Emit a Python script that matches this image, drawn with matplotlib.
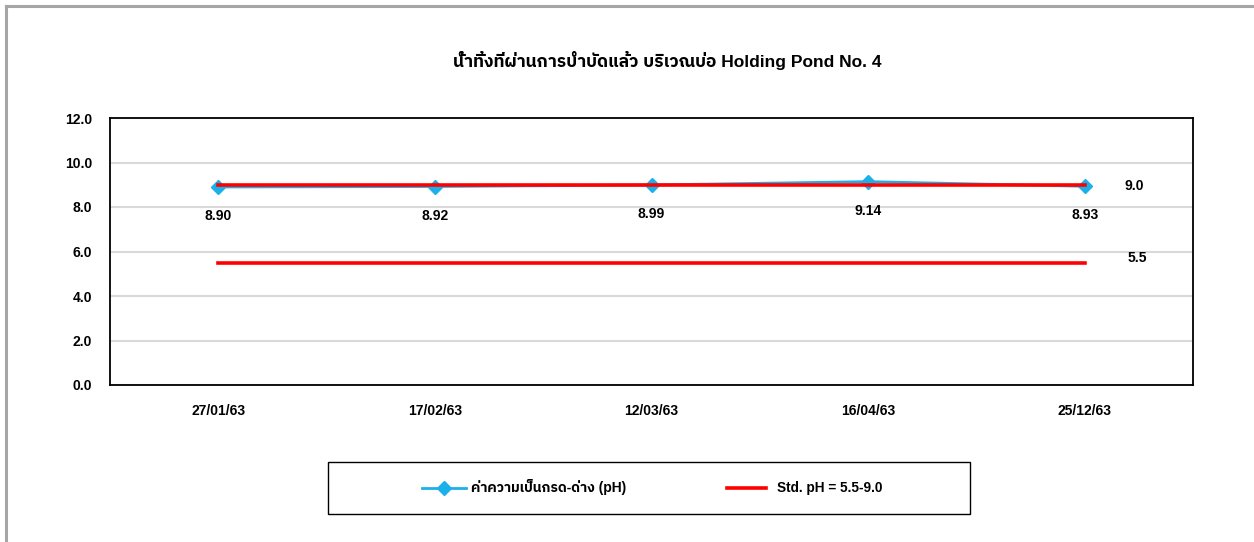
import matplotlib
matplotlib.use("Agg")
import matplotlib.pyplot as plt
from matplotlib import font_manager
from matplotlib.lines import Line2D
from matplotlib.patches import Rectangle

# ---- data -------------------------------------------------------------
dates = ["27/01/63", "17/02/63", "12/03/63", "16/04/63", "25/12/63"]
ph_values = [8.90, 8.92, 8.99, 9.14, 8.93]
std_upper = 9.0
std_lower = 5.5
y_ticks = [0.0, 2.0, 4.0, 6.0, 8.0, 10.0, 12.0]

title = "น้ำทิ้งที่ผ่านการบำบัดแล้ว บริเวณบ่อ Holding Pond No. 4"
ph_label = "ค่าความเป็นกรด-ด่าง (pH)"
std_label = "Std. pH = 5.5-9.0"


# ---- fonts: Latin in Liberation Sans, Thai from any font that has it ----
def find_thai_family():
    try:
        from fontTools.ttLib import TTFont
    except Exception:
        return None
    best = None
    for fe in font_manager.fontManager.ttflist:
        try:
            f = TTFont(fe.fname, fontNumber=0, lazy=True)
            cmap = f.getBestCmap() or {}
            if 0x0E01 in cmap and 0x0E33 in cmap:
                name = fe.name
                score = 0
                if "thai" in name.lower():
                    score += 2
                if "sans" in name.lower():
                    score += 1
                if best is None or score > best[0]:
                    best = (score, name)
        except Exception:
            continue
    return best[1] if best else None


thai_family = find_thai_family()
families = ["Liberation Sans"] + ([thai_family] if thai_family else []) + ["DejaVu Sans"]
plt.rcParams["font.family"] = families
plt.rcParams["font.weight"] = "bold"

BLUE = "#1cb0ea"
RED = "#ff0000"
GRID = "#d9d9d9"
MS = 7

W, H = 1254, 542
fig = plt.figure(figsize=(W / 100, H / 100), dpi=100)
fig.patch.set_facecolor("white")


def fx(px):
    return px / W


def fy(py):
    return 1 - py / H


# outer chart frame (left and top edges visible)
fig.add_artist(Line2D([fx(6), fx(6)], [0, fy(6)], color="#a6a6a6", lw=2.2,
                      transform=fig.transFigure))
fig.add_artist(Line2D([fx(6), 1], [fy(6), fy(6)], color="#a6a6a6", lw=2.2,
                      transform=fig.transFigure))

left, right, top, bottom = 110, 1193, 118, 385
ax = fig.add_axes([fx(left), fy(bottom), (right - left) / W, (bottom - top) / H])

x = list(range(len(dates)))

ax.plot(x, ph_values, color=BLUE, lw=2, marker="D", markersize=MS,
        markeredgecolor=BLUE, zorder=3)
ax.plot(x, [std_upper] * len(x), color=RED, lw=2.6, zorder=4)
ax.plot(x, [std_lower] * len(x), color=RED, lw=2.6, zorder=4)

for xi, v in zip(x, ph_values):
    ax.annotate(f"{v:.2f}", (xi, v), xytext=(0, -21), textcoords="offset points",
                ha="center", va="center", fontsize=10, fontweight="bold")

ax.annotate(f"{std_upper:.1f}", (x[-1], std_upper), xytext=(36, -1),
            textcoords="offset points", ha="center", va="center",
            fontsize=10, fontweight="bold")
ax.annotate(f"{std_lower:.1f}", (x[-1], std_lower), xytext=(38, 3),
            textcoords="offset points", ha="center", va="center",
            fontsize=10, fontweight="bold")

ax.set_xlim(-0.5, len(dates) - 0.5)
ax.set_ylim(0, 12)
ax.set_yticks(y_ticks)
ax.set_yticklabels([f"{t:.1f}" for t in y_ticks], fontsize=10, fontweight="bold")
ax.set_xticks(x)
ax.set_xticklabels(dates, fontsize=10, fontweight="bold")
ax.tick_params(axis="both", length=0)
ax.tick_params(axis="x", pad=14)
ax.tick_params(axis="y", pad=13)

ax.yaxis.grid(True, color=GRID, lw=1.5)
ax.set_axisbelow(True)
for sp in ax.spines.values():
    sp.set_color("black")
    sp.set_linewidth(1.3)

fig.text(fx(667), fy(60), title, ha="center", va="center",
         fontsize=12.5, fontweight="bold")

# legend box with two entries
fig.add_artist(Rectangle((fx(328), fy(514)), fx(970) - fx(328), fy(462) - fy(514),
                         transform=fig.transFigure, facecolor="white",
                         edgecolor="black", lw=1.0))
ly = fy(488)
fig.add_artist(Line2D([fx(422), fx(466)], [ly, ly], color=BLUE, lw=2,
                      transform=fig.transFigure))
fig.add_artist(Line2D([fx(444)], [ly], color=BLUE, marker="D", markersize=MS,
                      markeredgecolor=BLUE, transform=fig.transFigure))
fig.text(fx(471), fy(492), ph_label, ha="left", va="baseline", fontsize=10,
         fontweight="bold")
fig.add_artist(Line2D([fx(727), fx(766)], [ly, ly], color=RED, lw=2.6,
                      transform=fig.transFigure))
fig.text(fx(777), fy(492), std_label, ha="left", va="baseline", fontsize=9.8,
         fontweight="bold")

fig.savefig("out.png", dpi=100, facecolor="white")
